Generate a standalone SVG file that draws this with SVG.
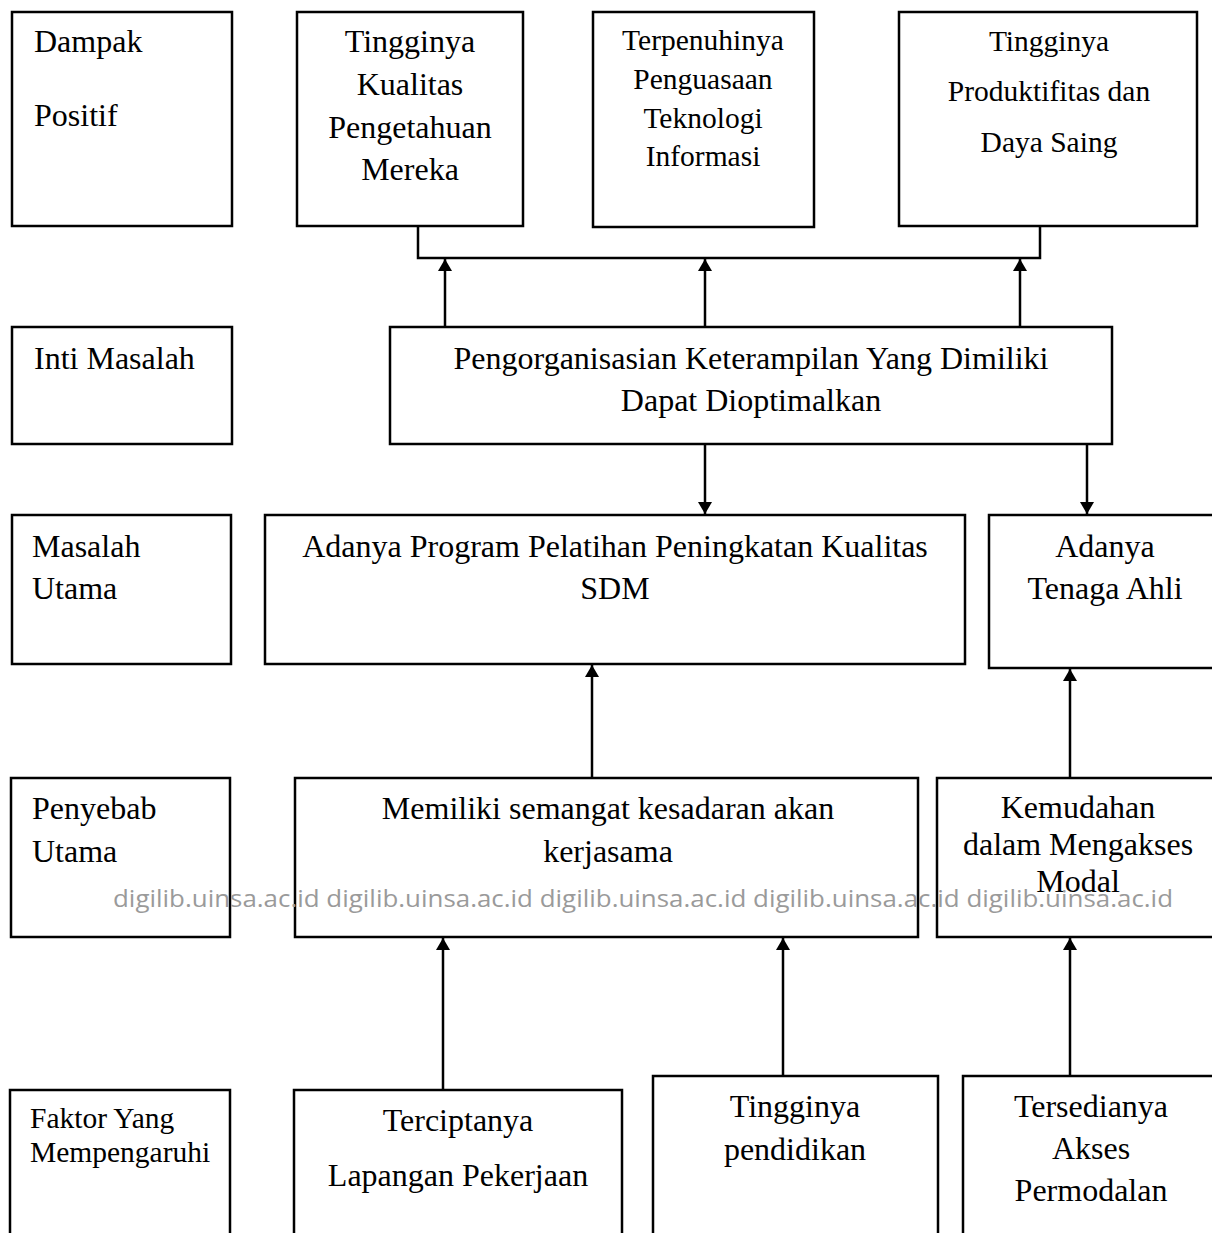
<svg xmlns="http://www.w3.org/2000/svg" width="1212" height="1233" viewBox="0 0 1212 1233">
<style>
.b{fill:#fff;stroke:#000;stroke-width:2.5}
.t{font-family:"Liberation Serif","Times New Roman",serif;font-size:32px;fill:#000}
.s{font-size:29.5px}
.c{text-anchor:middle}
.l{fill:none;stroke:#000;stroke-width:2.5}
.wm{font-family:"Open Sans","DejaVu Sans",sans-serif;font-size:24px;fill:#9a9a9a}
</style>
<defs>
<marker id="ah" viewBox="0 0 12 14" refX="12" refY="7" markerWidth="12" markerHeight="14" markerUnits="userSpaceOnUse" orient="auto">
<path d="M0,0 L12,7 L0,14 Z" fill="#000"/>
</marker>
</defs>
<rect width="1212" height="1233" fill="#fff"/>

<g id="lbl-dampak"><rect class="b" x="12" y="12" width="220" height="214"/>
<text class="t" x="34" y="52">Dampak</text><text class="t" x="34" y="126">Positif</text></g>
<g id="n-kualitas"><rect class="b" x="297" y="12" width="226" height="214"/>
<text class="t c" x="410" y="52">Tingginya</text><text class="t c" x="410" y="95">Kualitas</text><text class="t c" x="410" y="138">Pengetahuan</text><text class="t c" x="410" y="180">Mereka</text></g>
<g id="n-teknologi"><rect class="b" x="593" y="12" width="221" height="215"/>
<text class="t s c" x="703" y="50">Terpenuhinya</text><text class="t s c" x="703" y="89">Penguasaan</text><text class="t s c" x="703" y="128">Teknologi</text><text class="t s c" x="703" y="166">Informasi</text></g>
<g id="n-produktif"><rect class="b" x="899" y="12" width="298" height="214"/>
<text class="t s c" x="1049" y="51">Tingginya</text><text class="t s c" x="1049" y="101">Produktifitas dan</text><text class="t s c" x="1049" y="152">Daya Saing</text></g>

<g id="lbl-inti"><rect class="b" x="12" y="327" width="220" height="117"/>
<text class="t" x="34" y="369">Inti Masalah</text></g>
<g id="n-inti"><rect class="b" x="390" y="327" width="722" height="117"/>
<text class="t c" x="751" y="369">Pengorganisasian Keterampilan Yang Dimiliki</text><text class="t c" x="751" y="411">Dapat Dioptimalkan</text></g>

<g id="lbl-masalah"><rect class="b" x="12" y="515" width="219" height="149"/>
<text class="t" x="32" y="557">Masalah</text><text class="t" x="32" y="599">Utama</text></g>
<g id="n-pelatihan"><rect class="b" x="265" y="515" width="700" height="149"/>
<text class="t c" x="615" y="557">Adanya Program Pelatihan Peningkatan Kualitas</text><text class="t c" x="615" y="599">SDM</text></g>
<g id="n-ahli"><rect class="b" x="989" y="515" width="240" height="153"/>
<text class="t c" x="1105" y="557">Adanya</text><text class="t c" x="1105" y="599">Tenaga Ahli</text></g>

<g id="lbl-penyebab"><rect class="b" x="11" y="778" width="219" height="159"/>
<text class="t" x="32" y="819">Penyebab</text><text class="t" x="32" y="862">Utama</text></g>
<g id="n-semangat"><rect class="b" x="295" y="778" width="623" height="159"/>
<text class="t c" x="608" y="819">Memiliki semangat kesadaran akan</text><text class="t c" x="608" y="862">kerjasama</text></g>
<g id="n-modal"><rect class="b" x="937" y="778" width="290" height="159"/>
<text class="t c" x="1078" y="818">Kemudahan</text><text class="t c" x="1078" y="855">dalam Mengakses</text><text class="t c" x="1078" y="892">Modal</text></g>

<g id="lbl-faktor"><rect class="b" x="10" y="1090" width="220" height="160"/>
<text class="t s" x="30" y="1128">Faktor Yang</text><text class="t s" x="30" y="1162">Mempengaruhi</text></g>
<g id="n-lapangan"><rect class="b" x="294" y="1090" width="328" height="160"/>
<text class="t c" x="458" y="1131">Terciptanya</text><text class="t c" x="458" y="1186">Lapangan Pekerjaan</text></g>
<g id="n-pendidikan"><rect class="b" x="653" y="1076" width="285" height="174"/>
<text class="t c" x="795" y="1117">Tingginya</text><text class="t c" x="795" y="1160">pendidikan</text></g>
<g id="n-akses"><rect class="b" x="963" y="1076" width="260" height="174"/>
<text class="t c" x="1091" y="1117">Tersedianya</text><text class="t c" x="1091" y="1159">Akses</text><text class="t c" x="1091" y="1201">Permodalan</text></g>

<g id="connectors">
<path class="l" d="M418,226 V258 H1040 V226"/>
<line class="l" x1="445" y1="327" x2="445" y2="259" marker-end="url(#ah)"/>
<line class="l" x1="705" y1="327" x2="705" y2="259" marker-end="url(#ah)"/>
<line class="l" x1="1020" y1="327" x2="1020" y2="259" marker-end="url(#ah)"/>
<line class="l" x1="705" y1="444" x2="705" y2="514" marker-end="url(#ah)"/>
<line class="l" x1="1087" y1="444" x2="1087" y2="514" marker-end="url(#ah)"/>
<line class="l" x1="592" y1="778" x2="592" y2="665" marker-end="url(#ah)"/>
<line class="l" x1="1070" y1="778" x2="1070" y2="669" marker-end="url(#ah)"/>
<line class="l" x1="443" y1="1090" x2="443" y2="938" marker-end="url(#ah)"/>
<line class="l" x1="783" y1="1076" x2="783" y2="938" marker-end="url(#ah)"/>
<line class="l" x1="1070" y1="1076" x2="1070" y2="938" marker-end="url(#ah)"/>
</g>

<text class="wm" x="113" y="907" textLength="1060" lengthAdjust="spacingAndGlyphs">digilib.uinsa.ac.id digilib.uinsa.ac.id digilib.uinsa.ac.id digilib.uinsa.ac.id digilib.uinsa.ac.id</text>
</svg>
